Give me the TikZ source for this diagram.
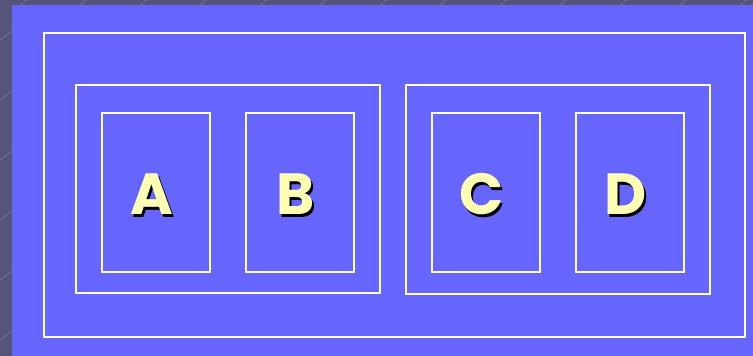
\documentclass[tikz,border=0pt]{standalone}
\usepackage{fontspec}
\setmainfont{Poppins}
\definecolor{bgdark}{HTML}{55557A}
\definecolor{slideblue}{HTML}{6666FF}
\definecolor{letteryellow}{HTML}{FFFFB4}
\newcommand{\shadowtext}[1]{\rlap{\hspace{2pt}\raisebox{-2.5pt}{\color{black}#1}}\color{letteryellow}#1}
\begin{document}
\begin{tikzpicture}[x=1pt,y=-1pt,
  frame/.style={draw=white,line width=1.6pt},
  letter/.style={font=\fontsize{58}{58}\selectfont\bfseries,inner sep=0pt}]
\fill[bgdark] (0,0) rectangle (753,356);
\useasboundingbox (0,0) rectangle (753,356);
\foreach \i in {0,60,...,780}{\draw[white!30!bgdark,line width=0.4pt] (\i-40,5) -- (\i,-25);}
\foreach \j in {40,100,...,360}{\draw[white!30!bgdark,line width=0.4pt] (0,\j) -- (12,\j-9);}
\fill[slideblue] (12,5) rectangle (760,360);
\node[frame,minimum width=701pt,minimum height=304pt,inner sep=0pt] (outer) at (394.5,185) {};
\node[frame,minimum width=304pt,minimum height=208pt,inner sep=0pt] (g1) at (228,189) {};
\node[frame,minimum width=304pt,minimum height=209pt,inner sep=0pt] (g2) at (558,189.5) {};
\foreach \n/\x/\t in {a/156/A,b/300/B,c/486/C,d/630/D}{
  \node[frame,minimum width=108pt,minimum height=159pt,inner sep=0pt] (box\n) at (\x,192.5) {};
  \node[letter] (lab\n) at ([xshift=-4pt,yshift=-3pt]box\n.center) {\shadowtext{\t}};
}
\end{tikzpicture}
\end{document}
